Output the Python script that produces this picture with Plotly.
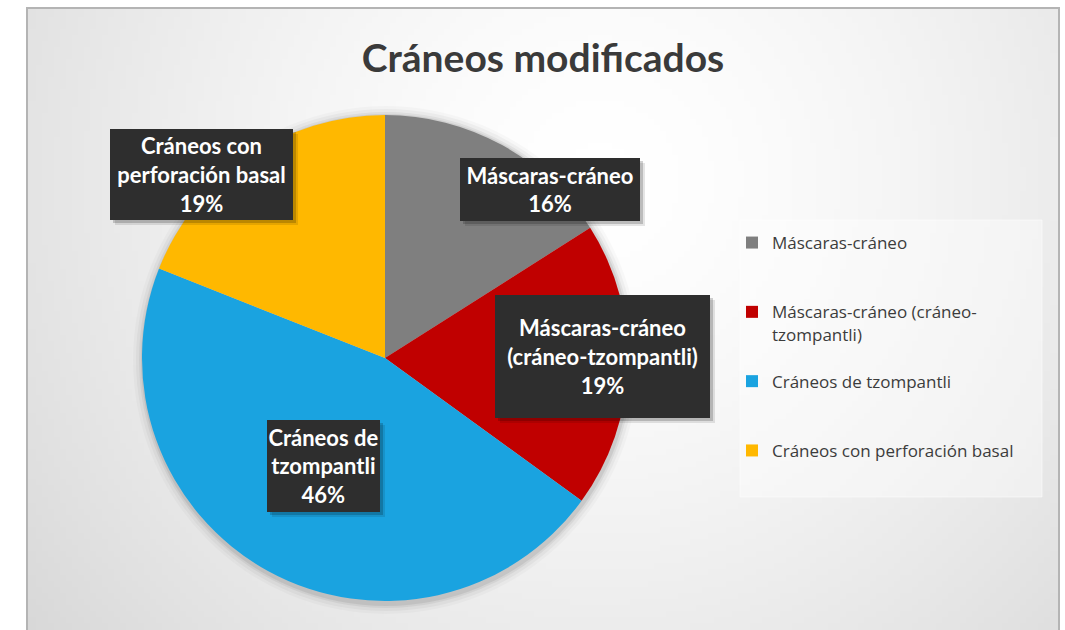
import base64, struct, zlib, math
import plotly.graph_objects as go

# ---------------- data ----------------
categories = ["Máscaras-cráneo",
              "Máscaras-cráneo (cráneo-tzompantli)",
              "Cráneos de tzompantli",
              "Cráneos con perforación basal"]
percentages = [16, 19, 46, 19]
colors = ["#7f7f7f", "#c00000", "#1aa3e0", "#ffb800"]
# text shown in the dark data-label boxes
label_lines = [["Máscaras-cráneo"],
               ["Máscaras-cráneo", "(cráneo-tzompantli)"],
               ["Cráneos de", "tzompantli"],
               ["Cráneos con", "perforación basal"]]
# legend wrapping (padded to 3 lines so the entries are evenly spaced)
legend_lines = [["Máscaras-cráneo"],
                ["Máscaras-cráneo (cráneo-", "tzompantli)"],
                ["Cráneos de tzompantli"],
                ["Cráneos con perforación basal"]]

W, H = 1065, 630

# ---------------- background gradient image ----------------
def gradient_png(w, h, full_w, full_h, cx, cy, R):
    raw = bytearray()
    for j in range(h):
        raw.append(0)
        py = (j + 0.5) / h * full_h
        for i in range(w):
            px = (i + 0.5) / w * full_w
            d = min(1.0, math.hypot(px - cx, py - cy) / R)
            v = int(round(255 - 45 * d ** 1.5))
            raw += bytes((v, v, v))
    def chunk(t, data):
        c = struct.pack(">I", len(data)) + t + data
        return c + struct.pack(">I", zlib.crc32(t + data) & 0xffffffff)
    png = b"\x89PNG\r\n\x1a\n"
    png += chunk(b"IHDR", struct.pack(">IIBBBBB", w, h, 8, 2, 0, 0, 0))
    png += chunk(b"IDAT", zlib.compress(bytes(raw), 9))
    png += chunk(b"IEND", b"")
    return "data:image/png;base64," + base64.b64encode(png).decode()

fx0, fy0, fx1, fy1 = 27, 8, 1059, 632   # chart frame (px)
bg = gradient_png(172, 104, fx1 - fx0, fy1 - fy0, 600 - fx0, 180 - fy0, 800)

def px_x(x):
    return x / W

def px_y(y):
    return 1 - y / H

# ---------------- pie ----------------
cx, cy, r = 385, 358, 243
legend_text = ["<br>".join(l + [" "] * (3 - len(l))) for l in legend_lines]

fig = go.Figure(go.Pie(
    labels=legend_text,
    values=percentages,
    marker=dict(colors=colors, line=dict(width=0)),
    sort=False,
    direction="clockwise",
    rotation=0,
    textinfo="none",
    hoverinfo="skip",
    domain=dict(x=[px_x(cx - r), px_x(cx + r)], y=[px_y(cy + r), px_y(cy - r)]),
))

shapes = []
# soft shadow round the pie
for k, a in [(10, 0.025), (7, 0.035), (4, 0.05), (2, 0.07)]:
    shapes.append(dict(type="circle", xref="paper", yref="paper", layer="below",
                       x0=px_x(cx - r - k + 1), x1=px_x(cx + r + k + 1),
                       y0=px_y(cy + r + k + 3), y1=px_y(cy - r - k + 1),
                       fillcolor=f"rgba(0,0,0,{a})", line=dict(width=0)))
# chart frame
shapes.append(dict(type="rect", xref="paper", yref="paper", layer="below",
                   x0=px_x(fx0), x1=px_x(fx1), y0=px_y(fy1), y1=px_y(fy0),
                   line=dict(color="#b4b4b4", width=2), fillcolor="rgba(0,0,0,0)"))
# legend box
shapes.append(dict(type="rect", xref="paper", yref="paper", layer="below",
                   x0=px_x(740), x1=px_x(1042), y0=px_y(497), y1=px_y(220),
                   line=dict(color="rgba(255,255,255,0.5)", width=1),
                   fillcolor="rgba(255,255,255,0.4)"))

# ---------------- data labels ----------------
boxes = [  # center x, center y, width, height (px)
    (550, 189.5, 180, 63),
    (602.5, 356.5, 215, 123),
    (323.5, 466, 113, 92),
    (201.5, 174.5, 183, 91),
]
annotations = []
for lines, pct, (bx, by, bw, bh) in zip(label_lines, percentages, boxes):
    # drop shadow of the label box
    for off, a in [(5, 0.10), (3, 0.18)]:
        shapes.append(dict(type="rect", xref="paper", yref="paper", layer="above",
                           x0=px_x(bx - bw / 2 + off), x1=px_x(bx + bw / 2 + off),
                           y0=px_y(by + bh / 2 + off), y1=px_y(by - bh / 2 + off),
                           fillcolor=f"rgba(0,0,0,{a})", line=dict(width=0)))
    txt = "<br>".join(f"<b>{t}</b>" for t in lines + [f"{pct}%"])
    annotations.append(dict(
        xref="paper", yref="paper", x=px_x(bx), y=px_y(by),
        xanchor="center", yanchor="middle", showarrow=False,
        text=txt, width=bw, height=bh, bgcolor="#2e2e2e",
        borderpad=0, borderwidth=0,
        font=dict(family="Lato", size=22, color="#ffffff")))

fig.update_layout(
    width=W, height=H,
    margin=dict(l=0, r=0, t=0, b=0),
    paper_bgcolor="#ffffff",
    plot_bgcolor="rgba(0,0,0,0)",
    title=dict(text="<b>Cráneos modificados</b>", x=px_x(543), y=px_y(58),
               xanchor="center", yanchor="middle",
               font=dict(family="Lato", size=39, color="#3a3a3a")),
    showlegend=True,
    legend=dict(x=px_x(732), y=px_y(225), xanchor="left", yanchor="top",
                bgcolor="rgba(0,0,0,0)", borderwidth=0, valign="top",
                font=dict(family="Open Sans", size=17, color="#3c3c3c"),
                traceorder="normal"),
    images=[dict(source=bg, xref="paper", yref="paper",
                 x=px_x(fx0), y=px_y(fy0),
                 sizex=(fx1 - fx0) / W, sizey=(fy1 - fy0) / H,
                 sizing="stretch", layer="below", xanchor="left", yanchor="top")],
    shapes=shapes,
    annotations=annotations,
)

fig.write_html("out.html")
